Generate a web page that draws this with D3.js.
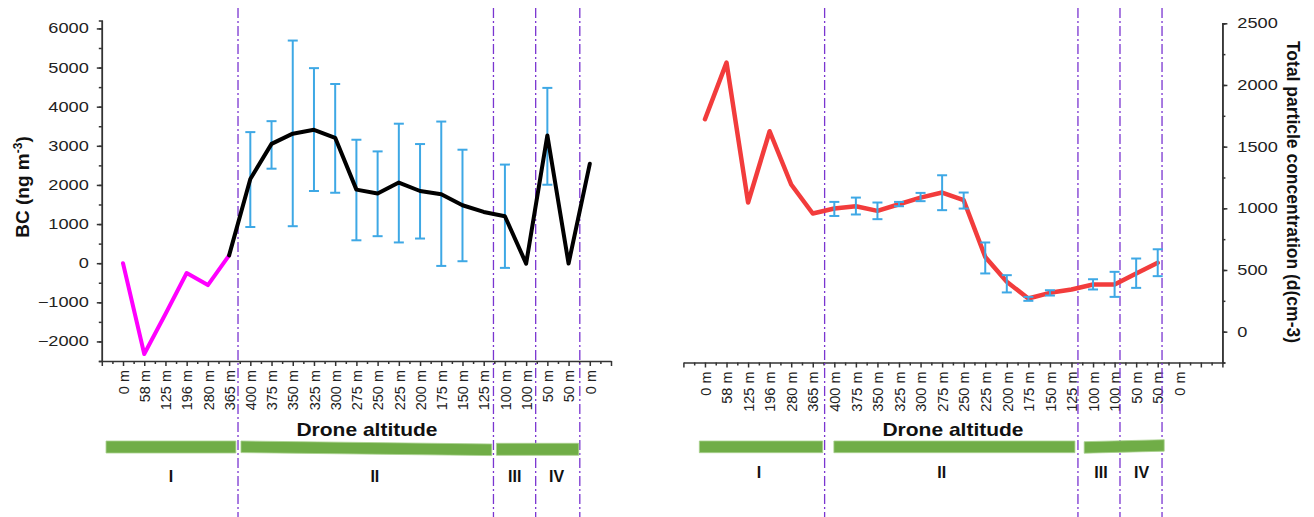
<!DOCTYPE html>
<html>
<head>
<meta charset="utf-8">
<script src="https://cdn.jsdelivr.net/npm/d3@7"></script>
<style>
  body { margin: 0; background: #fff; }
  svg { display: block; font-family: "Liberation Sans", Arial, sans-serif; }
  .axis path, .axis line { stroke: #333; stroke-width: 1.5; }
  .axis text { fill: #222; }
</style>
</head>
<body>
<svg id="chart" width="1314" height="517"></svg>
<script>
// ---- données ----
const categories = ["0 m", "58 m", "125 m", "196 m", "280 m", "365 m", "400 m", "375 m", "350 m",
    "325 m", "300 m", "275 m", "250 m", "225 m", "200 m", "175 m", "150 m", "125 m",
    "100 m", "100 m", "50 m", "50 m", "0 m"];

// BC (ng m-3)
const bcValues = [0, -2320, -1300, -250, -560, 200, 2150, 3050, 3310, 3410, 3205, 1880, 1780,
    2060, 1845, 1760, 1480, 1310, 1200, -10, 3265, -10, 2540];
const bcUpper = [null, null, null, null, null, null, 3350, 3630, 5690, 4985, 4580, 3155, 2857,
    3565, 3045, 3620, 2900, null, 2520, null, 4480, null, null];
const bcLower = [null, null, null, null, null, null, 925, 2415, 945, 1845, 1800, 585, 690,
    530, 630, -70, 50, null, -120, null, 2005, null, null];

// Total particle concentration
const pncValues = [1722, 2181, 1047, 1625, 1193, 958, 998, 1017, 979, 1033, 1087, 1128, 1066,
    606, 404, 269, 315, 342, 382, 382, 472, 558, null];
const pncUpper = [null, null, null, null, null, null, 1052, 1087, 1047, 1052, 1125, 1268, 1128,
    723, 458, 282, 336, null, 425, 485, 593, 668, null];
const pncLower = [null, null, null, null, null, null, 938, 950, 912, 1017, 1058, 985, 998,
    472, 318, 250, 293, null, 342, 282, 355, 450, null];

const bcTicks = [-2000, -1000, 0, 1000, 2000, 3000, 4000, 5000, 6000];
const pncTicks = [0, 500, 1000, 1500, 2000, 2500];
const phaseNames = ["I", "II", "III", "IV"];

// ---- mise en page ----
const svg = d3.select("#chart");
const DIVIDER_COLOR = "#7a35d0";
const ERR_COLOR = "#3ea8e5";
const GREEN = "#70ad47";

const leftCfg = {
    xDomain: [-1, 23], xRange: [101.8, 611], axisY: 361,
    yDomain: [-2500, 6200], yTop: 20.6, yMinor: 500,
    dividers: [5.42, 17.46, 19.45, 21.53],
    bars: [[-0.8, 5.32, 441, 441, 12], [5.56, 17.38, 441, 444, 11.6], [17.6, 21.48, 443.3, 443.3, 12]],
    phaseX: [2.26, 11.87, 18.46, 20.44], phaseY: 482,
    labelX: 367, labelY: 436
};
const rightCfg = {
    xDomain: [-1, 24], xRange: [683.4, 1222.4], axisY: 362.5,
    yDomain: [-250, 2500], yTop: 23.3, yMinor: 250,
    dividers: [5.55, 17.3, 19.25, 21.2],
    bars: [[-0.26, 5.46, 441, 441, 11.7], [5.98, 17.16, 441, 441, 11.7], [17.59, 21.3, 441.7, 439.7, 11.5]],
    phaseX: [2.5, 10.98, 18.37, 20.25], phaseY: 478,
    labelX: 953, labelY: 435.5
};

function buildPanel(cfg) {
    const x = d3.scaleLinear().domain(cfg.xDomain).range(cfg.xRange);
    const y = d3.scaleLinear().domain(cfg.yDomain).range([cfg.axisY, cfg.yTop]);
    return { x, y };
}

function drawXAxis(cfg, x) {
    const g = svg.append("g").attr("class", "axis")
        .attr("transform", `translate(0,${cfg.axisY})`);
    // petits traits aux demi-pas
    const halves = d3.range(cfg.xDomain[0] + 0.5, cfg.xDomain[1], 1);
    g.append("g").call(d3.axisBottom(x).tickValues(halves).tickSize(3).tickFormat(""))
        .select(".domain").remove();
    const ints = d3.range(cfg.xDomain[0], cfg.xDomain[1] + 1);
    const ax = g.append("g").call(d3.axisBottom(x).tickValues(ints).tickSize(5).tickSizeOuter(0)
        .tickFormat(i => categories[i] || ""));
    ax.selectAll("text")
        .attr("transform", "rotate(-90)")
        .attr("text-anchor", "end")
        .attr("x", -9).attr("y", 0).attr("dy", "0.36em")
        .attr("font-size", 14.5);
}

function drawDividers(cfg, x) {
    svg.append("g").selectAll("line")
        .data(cfg.dividers)
        .join("line")
        .attr("x1", d => x(d)).attr("x2", d => x(d))
        .attr("y1", 8).attr("y2", 517)
        .attr("stroke", DIVIDER_COLOR)
        .attr("stroke-width", 1.3)
        .attr("stroke-dasharray", "10,3,2,3");
}

function drawPhases(cfg, x) {
    svg.append("g").selectAll("polygon")
        .data(cfg.bars)
        .join("polygon")
        .attr("points", d => {
            const [a, b, t0, t1, h] = d;
            return [[x(a), t0], [x(b), t1], [x(b), t1 + h], [x(a), t0 + h]].join(" ");
        })
        .attr("fill", GREEN)
        .attr("stroke", "#a8d08d")
        .attr("stroke-width", 0.8);

    svg.append("g").selectAll("text")
        .data(phaseNames)
        .join("text")
        .attr("x", (d, i) => x(cfg.phaseX[i]))
        .attr("y", cfg.phaseY)
        .attr("text-anchor", "middle")
        .attr("font-weight", "bold")
        .attr("font-size", 16)
        .attr("fill", "#111")
        .text(d => d);

    svg.append("text")
        .attr("transform", `translate(${cfg.labelX},${cfg.labelY}) scale(1.2,1)`)
        .attr("text-anchor", "middle")
        .attr("font-weight", "bold")
        .attr("font-size", 17.5)
        .attr("fill", "#111")
        .text("Drone altitude");
}

function drawErrors(x, y, values, upper, lower) {
    const idx = values.map((v, i) => i).filter(i => upper[i] != null);
    const g = svg.append("g").attr("stroke", ERR_COLOR).attr("stroke-width", 2);
    g.selectAll(".stem").data(idx).join("line")
        .attr("x1", i => x(i)).attr("x2", i => x(i))
        .attr("y1", i => y(upper[i])).attr("y2", i => y(lower[i]));
    g.selectAll(".capTop").data(idx).join("line")
        .attr("x1", i => x(i) - 5).attr("x2", i => x(i) + 5)
        .attr("y1", i => y(upper[i])).attr("y2", i => y(upper[i]));
    g.selectAll(".capBot").data(idx).join("line")
        .attr("x1", i => x(i) - 5).attr("x2", i => x(i) + 5)
        .attr("y1", i => y(lower[i])).attr("y2", i => y(lower[i]));
}

function drawLine(x, y, values, from, to, color, width) {
    const pts = d3.range(from, to + 1).filter(i => values[i] != null);
    svg.append("path")
        .datum(pts)
        .attr("fill", "none")
        .attr("stroke", color)
        .attr("stroke-width", width)
        .attr("stroke-linejoin", "round")
        .attr("stroke-linecap", "round")
        .attr("d", d3.line().x(i => x(i)).y(i => y(values[i])));
}

// ==== panneau gauche : BC ====
{
    const { x, y } = buildPanel(leftCfg);
    const x0 = leftCfg.xRange[0];

    const ya = svg.append("g").attr("class", "axis").attr("transform", `translate(${x0},0)`);
    ya.append("g").call(d3.axisLeft(y).tickValues(d3.range(-2500, 6001, leftCfg.yMinor)).tickSize(3).tickFormat(""));
    ya.append("g").call(d3.axisLeft(y).tickValues(bcTicks).tickSize(5).tickSizeOuter(0).tickFormat(d3.format("d")))
        .selectAll("text")
        .attr("font-size", 14)
        .attr("x", -10)
        .attr("transform", "scale(1.3,1)");

    svg.append("text")
        .attr("transform", `translate(29,187) rotate(-90)`)
        .attr("text-anchor", "middle")
        .attr("font-weight", "bold")
        .attr("font-size", 19)
        .attr("fill", "#111")
        .call(t => {
            t.append("tspan").text("BC (ng m");
            t.append("tspan").attr("dy", -7).attr("font-size", 12).text("-3");
            t.append("tspan").attr("dy", 7).text(")");
        });

    drawXAxis(leftCfg, x);
    drawDividers(leftCfg, x);
    drawErrors(x, y, bcValues, bcUpper, bcLower);
    drawLine(x, y, bcValues, 0, 5, "#ff00ff", 4);
    drawLine(x, y, bcValues, 5, 22, "#000", 4);
    drawPhases(leftCfg, x);
}

// ==== panneau droit : concentration totale ====
{
    const { x, y } = buildPanel(rightCfg);
    const x1 = rightCfg.xRange[1];

    const ya = svg.append("g").attr("class", "axis").attr("transform", `translate(${x1},0)`);
    ya.append("g").call(d3.axisRight(y).tickValues(d3.range(-250, 2501, rightCfg.yMinor)).tickSize(3).tickFormat(""));
    ya.append("g").call(d3.axisRight(y).tickValues(pncTicks).tickSize(5).tickSizeOuter(0).tickFormat(d3.format("d")))
        .selectAll("text")
        .attr("font-size", 14)
        .attr("x", 11.5)
        .attr("transform", "scale(1.3,1)");

    svg.append("text")
        .attr("transform", `translate(1287,192) rotate(90)`)
        .attr("text-anchor", "middle")
        .attr("font-weight", "bold")
        .attr("font-size", 17.5)
        .attr("fill", "#111")
        .text("Total particle concentration (d(cm-3)");

    drawXAxis(rightCfg, x);
    drawDividers(rightCfg, x);
    drawLine(x, y, pncValues, 0, 22, "#f23c3c", 4.5);
    drawErrors(x, y, pncValues, pncUpper, pncLower);
    drawPhases(rightCfg, x);
}
</script>
</body>
</html>
